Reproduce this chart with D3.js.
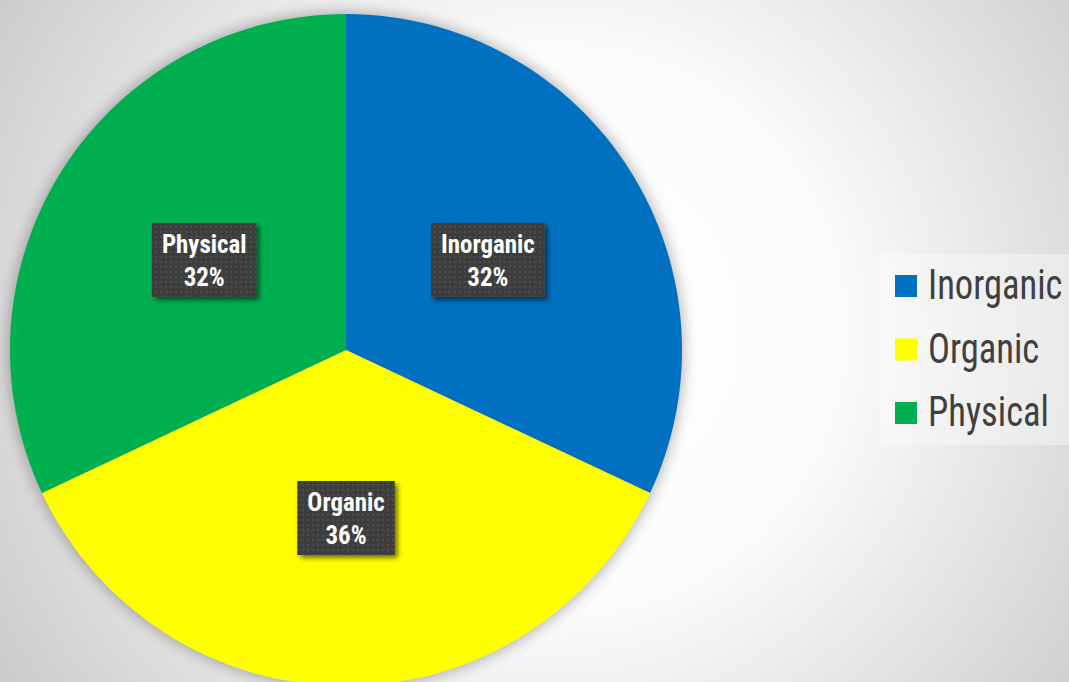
<!DOCTYPE html>
<html>
<head>
<meta charset="utf-8">
<script src="https://cdn.jsdelivr.net/npm/d3@7"></script>
<style>
  html, body { margin: 0; padding: 0; overflow: hidden; }
  svg { display: block; }
</style>
</head>
<body>
<svg width="1069" height="682"></svg>
<script>
const categories = ["Inorganic", "Organic", "Physical"];
const values = [32, 36, 32];
const sliceColors = ["#0070C0", "#FFFF00", "#00B050"];

const svg = d3.select("svg");
const W = 1069, H = 682;
const defs = svg.append("defs");

// background gradient
const bg = defs.append("radialGradient").attr("id", "bg")
    .attr("gradientUnits", "userSpaceOnUse")
    .attr("cx", 560).attr("cy", 330).attr("r", 700);
bg.append("stop").attr("offset", "0%").attr("stop-color", "#ffffff");
bg.append("stop").attr("offset", "40%").attr("stop-color", "#fbfbfb");
bg.append("stop").attr("offset", "100%").attr("stop-color", "#c6c6c6");
svg.append("rect").attr("width", W).attr("height", H).attr("fill", "url(#bg)");

// soft glow behind the pie
const glow = defs.append("filter").attr("id", "glow")
    .attr("x", "-20%").attr("y", "-20%").attr("width", "140%").attr("height", "140%");
glow.append("feGaussianBlur").attr("stdDeviation", 7);

// label shadow
const shadow = defs.append("filter").attr("id", "shadow")
    .attr("x", "-20%").attr("y", "-20%").attr("width", "150%").attr("height", "150%");
shadow.append("feDropShadow").attr("dx", 3).attr("dy", 3).attr("stdDeviation", 2.5)
    .attr("flood-color", "#000").attr("flood-opacity", 0.55);

// dotted pattern for label boxes
const pat = defs.append("pattern").attr("id", "dots")
    .attr("patternUnits", "userSpaceOnUse").attr("width", 5).attr("height", 5);
pat.append("rect").attr("width", 5).attr("height", 5).attr("fill", "#3d3d3d");
pat.append("rect").attr("x", 1).attr("y", 1).attr("width", 2).attr("height", 2).attr("fill", "#4d4d4d");

const cx = 346, cy = 350, radius = 336;

const data = categories.map((c, i) => ({ name: c, value: values[i] }));
const color = d3.scaleOrdinal().domain(categories).range(sliceColors);
const total = d3.sum(values);

const pie = d3.pie().sort(null).value(d => d.value);
const arc = d3.arc().innerRadius(0).outerRadius(radius);
const arcs = pie(data);

const g = svg.append("g").attr("transform", `translate(${cx},${cy})`);

g.append("circle").attr("r", radius + 2).attr("fill", "#000")
    .attr("opacity", 0.28).attr("filter", "url(#glow)");

g.selectAll("path.slice")
    .data(arcs)
    .enter().append("path")
    .attr("class", "slice")
    .attr("d", arc)
    .attr("fill", d => color(d.data.name));

// data labels
const labelFont = "'Roboto Condensed', 'Liberation Sans Narrow', Roboto, sans-serif";
const labels = g.selectAll("g.label")
    .data(arcs)
    .enter().append("g")
    .attr("class", "label")
    .attr("transform", d => `translate(${arc.centroid(d)})`);

labels.each(function(d) {
    const lg = d3.select(this);
    const box = lg.append("rect").attr("fill", "url(#dots)").attr("filter", "url(#shadow)");
    const t = lg.append("text")
        .attr("text-anchor", "middle")
        .attr("fill", "#ffffff")
        .attr("transform", "scale(0.94,1)")
        .style("font-family", labelFont)
        .style("font-weight", "bold")
        .style("font-size", "26.5px");
    t.append("tspan").attr("x", 0).attr("y", -7).text(d.data.name);
    t.append("tspan").attr("x", 0).attr("y", 26)
        .text(Math.round(d.data.value / total * 100) + "%");
    const w = t.node().getBBox().width * 0.94 + 20;
    box.attr("x", -w / 2).attr("y", -37).attr("width", w).attr("height", 74);
});

// legend
const legend = svg.append("g").attr("transform", "translate(880,254)");
legend.append("rect").attr("width", 200).attr("height", 191)
    .attr("fill", "#ffffff").attr("opacity", 0.35);

const items = legend.selectAll("g.item")
    .data(categories)
    .enter().append("g")
    .attr("class", "item")
    .attr("transform", (d, i) => `translate(15,${21 + i * 63.5})`);

items.append("rect").attr("width", 22).attr("height", 22).attr("fill", d => color(d));
items.append("text")
    .attr("transform", "translate(33,24) scale(0.87,1)")
    .attr("fill", "#404040")
    .style("font-family", labelFont)
    .style("font-size", "42px")
    .text(d => d);
</script>
</body>
</html>
